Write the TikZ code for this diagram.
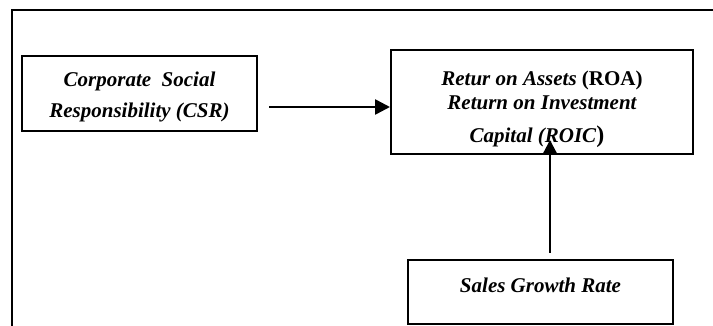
\documentclass[tikz,border=0pt]{standalone}
\usepackage{fontspec}
\setmainfont{Liberation Serif}
\usetikzlibrary{arrows.meta}
\begin{document}
\begin{tikzpicture}[x=1pt,y=-1pt,
  boxstyle/.style={draw,line width=2.6pt},
  txt/.style={font=\fontsize{21}{24}\selectfont\bfseries\itshape,inner sep=0pt,anchor=base},
  arr/.style={line width=2.6pt,-{Triangle[length=15pt,width=15pt]}}]
\useasboundingbox (0,0) rectangle (713,326);
% outer frame
\draw[line width=2.6pt] (12,326) -- (12,10) -- (713,10);
% boxes
\draw[boxstyle] (22,56) rectangle (257,131);
\draw[boxstyle] (391,50) rectangle (693,154);
\draw[boxstyle] (408,260) rectangle (673,324);
% texts
\node[txt] (csr1) at (139.5,87) {Corporate\ \ Social};
\node[txt] (csr2) at (139.5,118) {Responsibility (CSR)};
\node[txt] (roa1) at (542,86) {Retur on Assets \textup{(ROA)}};
\node[txt] (roa2) at (542,110) {Return on Investment};
\node[txt] (roa3) at (537,143) {Capital (ROIC\textup{\fontsize{24}{24}\selectfont)}};
\node[txt] (sgr) at (540.5,292) {Sales Growth Rate};
% connectors
\coordinate (a1s) at (269,107);
\coordinate (a1e) at (390,107);
\coordinate (a2s) at (550,253);
\coordinate (a2e) at (550,140);
\draw[arr] (a1s) -- (a1e);
\draw[arr] (a2s) -- (a2e);
\end{tikzpicture}
\end{document}
